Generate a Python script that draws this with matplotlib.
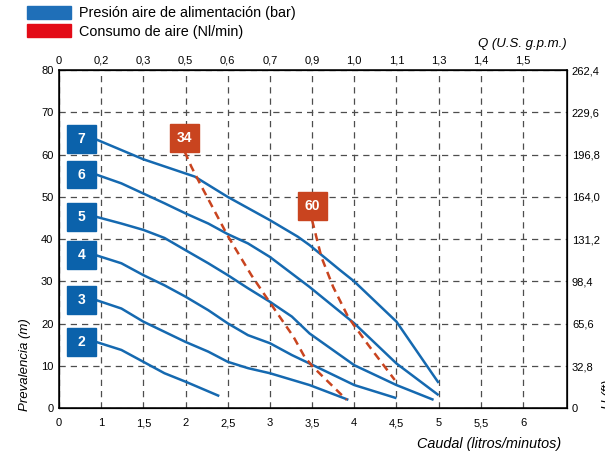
import matplotlib.pyplot as plt
from matplotlib.patches import Patch, Rectangle

plt.rcParams['font.family'] = ['Liberation Sans', 'DejaVu Sans']

BLUE = '#1569b0'
BOX_BLUE = '#0b62ab'
RED = '#c9441f'
GRID = '#4d4d4d'

# escalas de los ejes
flow_pos = [0.5, 1, 1.5, 2, 2.5, 3, 3.5, 4, 4.5, 5, 5.5, 6]
flow_labels = ['0', '1', '1,5', '2', '2,5', '3', '3,5', '4', '4,5', '5', '5,5', '6']
gpm_labels = ['0', '0,2', '0,3', '0,5', '0,6', '0,7', '0,9', '1,0', '1,1', '1,3', '1,4', '1,5']
head_pos = [0, 10, 20, 30, 40, 50, 60, 70, 80]
head_labels = ['0', '10', '20', '30', '40', '50', '60', '70', '80']
feet_labels = ['0', '32,8', '65,6', '98,4', '131,2', '164,0', '196,8', '229,6', '262,4']

# curvas caudal (l/min) / prevalencia (m) por presion de aire (bar)
q2 = [0.94, 1.24, 1.5, 1.75, 2, 2.4]
h2 = [15.7, 13.8, 11.0, 8.3, 6.3, 2.9]
q3 = [0.94, 1.24, 1.5, 1.75, 2, 2.27, 2.5, 2.74, 3, 3.47, 3.93]
h3 = [25.6, 23.6, 20.5, 18.1, 15.7, 13.4, 11.0, 9.5, 8.3, 5.5, 2.0]
q4 = [0.94, 1.24, 1.5, 1.75, 2, 2.27, 2.5, 2.74, 3, 3.26, 3.47, 4, 4.5]
h4 = [36.2, 34.3, 31.5, 29.1, 26.4, 23.2, 20.1, 17.3, 15.4, 12.6, 10.6, 5.5, 2.4]
q5 = [0.94, 1.24, 1.5, 1.75, 2, 2.27, 2.5, 2.74, 3, 3.26, 3.47, 4, 4.5, 4.94]
h5 = [45.3, 43.7, 42.2, 40.3, 37.4, 34.3, 31.5, 28.4, 25.2, 21.7, 17.7, 10.2, 5.5, 2.0]
q6 = [0.94, 1.24, 1.5, 1.75, 2, 2.27, 2.5, 2.74, 3, 3.47, 4, 4.5, 5]
h6 = [55.3, 53.2, 50.8, 48.5, 46.1, 43.7, 41.2, 39.0, 35.8, 28.7, 20.1, 10.6, 3.1]
q7 = [0.94, 1.5, 2.11, 2.5, 3, 3.33, 3.47, 3.83, 4, 4.5, 5]
h7 = [63.6, 58.9, 54.8, 50.0, 44.5, 40.6, 38.6, 32.7, 30.0, 20.5, 6.0]
pressures = [2, 3, 4, 5, 6, 7]

# consumo de aire (Nl/min)
q_air34 = [1.99, 2.07, 2.17, 2.5, 2.78, 2.98, 3.28, 3.41, 3.51, 3.91]
h_air34 = [60.7, 57.1, 53.2, 40.8, 31.5, 25.6, 16.9, 12.2, 9.8, 2.0]
q_air60 = [3.5, 3.61, 3.75, 3.93, 4.15, 4.48]
h_air60 = [44.5, 35.8, 28.7, 21.5, 15.4, 6.7]
consumptions = [34, 60]

fig = plt.figure(figsize=(6.05, 4.55), dpi=100)
ax = fig.add_axes([0.0975, 0.1026, 0.8395, 0.7434])
ax.set_xlim(0.5, 6.52)
ax.set_ylim(0, 80)

ax.set_xticks(flow_pos, flow_labels)
ax.set_yticks(head_pos, head_labels)
ax.tick_params(length=0, labelsize=8)
ax.tick_params(axis='x', pad=7)
ax.tick_params(axis='y', pad=4)
ax.grid(True, color=GRID, lw=0.9, ls=(0, (5, 4)))
ax.set_axisbelow(True)
for s in ax.spines.values():
    s.set_linewidth(1.1)

box_w, box_h = 0.345, 6.6
for p, q, h in zip(pressures, [q2, q3, q4, q5, q6, q7], [h2, h3, h4, h5, h6, h7]):
    ax.plot(q, h, color=BLUE, lw=1.8, solid_capstyle='butt', solid_joinstyle='round', zorder=3)
    ax.add_patch(Rectangle((q[0] - 0.005 - box_w, h[0] - box_h / 2), box_w, box_h,
                           color=BOX_BLUE, zorder=5))
    ax.text(q[0] - 0.005 - box_w / 2, h[0], str(p), color='white', fontsize=10,
            fontweight='bold', ha='center', va='center', zorder=6)

for c, q, h in zip(consumptions, [q_air34, q_air60], [h_air34, h_air60]):
    ax.plot(q, h, color=RED, lw=1.8, ls=(0, (3.2, 2.2)), zorder=4)
    ax.add_patch(Rectangle((q[0] - box_w / 2, h[0]), box_w, box_h, color=RED, zorder=5))
    ax.text(q[0], h[0] + box_h / 2, str(c), color='white', fontsize=10,
            fontweight='bold', ha='center', va='center', zorder=6)

ax_top = ax.twiny()
ax_top.set_xlim(ax.get_xlim())
ax_top.set_xticks(flow_pos, gpm_labels)
ax_top.tick_params(length=0, labelsize=8, pad=3.2)

ax_right = ax.twinx()
ax_right.set_ylim(ax.get_ylim())
ax_right.set_yticks(head_pos, feet_labels)
ax_right.tick_params(length=0, labelsize=8, pad=3.6)

fig.text(561 / 605, 1 - 444 / 455, 'Caudal (litros/minutos)', style='italic',
         fontsize=10.4, ha='right', va='center')
fig.text(567 / 605, 1 - 44 / 455, 'Q (U.S. g.p.m.)', style='italic',
         fontsize=9.5, ha='right', va='center')
fig.text(25 / 605, 1 - 365 / 455, 'Prevalencia (m)', style='italic', rotation=90,
         fontsize=9.5, ha='center', va='center')
fig.text(608 / 605, 1 - 394 / 455, 'H (ft)', style='italic', rotation=90,
         fontsize=9.5, ha='center', va='center')

handles = [Patch(color='#1f6fb8', label='Presión aire de alimentación (bar)'),
           Patch(color='#e30b17', label='Consumo de aire (Nl/min)')]
fig.legend(handles=handles, loc='upper left', bbox_to_anchor=(27 / 605, 1 - 6 / 455),
           frameon=False, fontsize=10.4, borderpad=0, handlelength=3.05,
           handleheight=0.97, handletextpad=0.55, labelspacing=0.28, borderaxespad=0)

fig.savefig('out.png', dpi=100)
